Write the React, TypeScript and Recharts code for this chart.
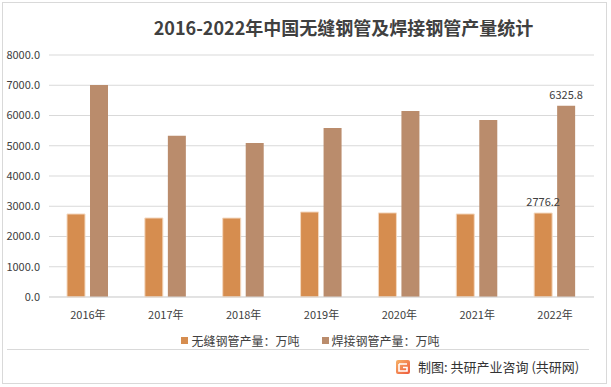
import React from 'react';
import { BarChart, Bar, XAxis, YAxis, CartesianGrid, LabelList } from 'recharts';

const years = ['2016年', '2017年', '2018年', '2019年', '2020年', '2021年', '2022年'];
const seamless = [2744, 2612, 2610, 2810, 2780, 2745, 2776.2];
const welded = [7010, 5330, 5090, 5590, 6150, 5850, 6325.8];
const yTicks = [0, 1000, 2000, 3000, 4000, 5000, 6000, 7000, 8000];
const seriesNames = ['无缝钢管产量：万吨', '焊接钢管产量：万吨'];
const colors = ['#D68D4F', '#BA8C6C'];

const data = years.map((year, i) => ({ year, seamless: seamless[i], welded: welded[i] }));

const lastLabel = (props: any) => {
  const { x, y, width, value, index } = props;
  if (index !== years.length - 1) return null;
  return (
    <text x={x + width / 2} y={y - 7} textAnchor="middle" fontSize={11} fill="#404040">
      {Number(value).toFixed(1)}
    </text>
  );
};

export default function App() {
  return (
    <div
      style={{
        position: 'absolute',
        left: 0,
        top: 0,
        width: 611,
        height: 387,
        background: '#fff',
        fontFamily: '"Noto Sans CJK SC", "Noto Sans", sans-serif',
      }}
    >
      <div
        style={{
          position: 'absolute',
          left: 2,
          top: 2,
          width: 603,
          height: 380,
          border: '1px solid #d9d9d9',
        }}
      />
      <div
        style={{
          position: 'absolute',
          left: 0,
          width: 611,
          top: 14,
          textAlign: 'center',
          paddingLeft: 76,
          boxSizing: 'border-box',
          fontSize: 18,
          fontWeight: 'bold',
          color: '#404040',
        }}
      >
        2016-2022年中国无缝钢管及焊接钢管产量统计
      </div>
      <BarChart
        width={611}
        height={387}
        data={data}
        margin={{ top: 55, right: 17, bottom: 60, left: 0 }}
        barSize={18}
        barGap={5}
        style={{ position: 'absolute', left: 0, top: 0 }}
      >
        <CartesianGrid vertical={false} stroke="#d9d9d9" />
        <XAxis
          dataKey="year"
          height={30}
          tickLine={false}
          axisLine={{ stroke: '#d9d9d9' }}
          tickSize={0}
          tickMargin={14}
          tick={{ fontSize: 11, fill: '#404040' }}
        />
        <YAxis
          width={49}
          domain={[0, 8000]}
          ticks={yTicks}
          interval={0}
          tickLine={false}
          axisLine={false}
          tickSize={0}
          tickMargin={9}
          tickFormatter={(v: number) => v.toFixed(1)}
          tick={{ fontSize: 11, fill: '#404040' }}
        />
        <Bar dataKey="seamless" name={seriesNames[0]} fill={colors[0]} stroke="#f4d9c0" strokeWidth={1} isAnimationActive={false}>
          <LabelList dataKey="seamless" content={lastLabel} />
        </Bar>
        <Bar dataKey="welded" name={seriesNames[1]} fill={colors[1]} isAnimationActive={false}>
          <LabelList dataKey="welded" content={lastLabel} />
        </Bar>
      </BarChart>
      <div
        style={{
          position: 'absolute',
          top: 332,
          left: 0,
          width: 611,
          paddingLeft: 10,
          boxSizing: 'border-box',
          display: 'flex',
          justifyContent: 'center',
          gap: 22,
          fontSize: 12,
          color: '#404040',
        }}
      >
        {seriesNames.map((name, i) => (
          <span key={name} style={{ display: 'flex', alignItems: 'center' }}>
            <span style={{ width: 7, height: 7, background: colors[i], marginRight: 3, display: 'inline-block' }} />
            {name}
          </span>
        ))}
      </div>
      <div style={{ position: 'absolute', left: 7, top: 349, width: 582, height: 1, background: '#d9d9d9' }} />
      <div
        style={{
          position: 'absolute',
          left: 396,
          top: 357,
          display: 'flex',
          alignItems: 'center',
          fontSize: 13,
          color: '#333',
        }}
      >
        <svg width={14} height={14} viewBox="0 0 14 14" style={{ marginRight: 8 }}>
          <defs>
            <linearGradient id="logoGrad" x1="0" y1="0" x2="1" y2="1">
              <stop offset="0%" stopColor="#F7B267" />
              <stop offset="100%" stopColor="#EE5A3C" />
            </linearGradient>
          </defs>
          <rect x={0} y={0} width={14} height={14} rx={2} fill="url(#logoGrad)" />
          <path d="M3 4 H11 M3 4 V11 H11 V7.5 H7" stroke="#fff" strokeWidth={1.6} fill="none" />
        </svg>
        制图: 共研产业咨询 (共研网)
      </div>
    </div>
  );
}
